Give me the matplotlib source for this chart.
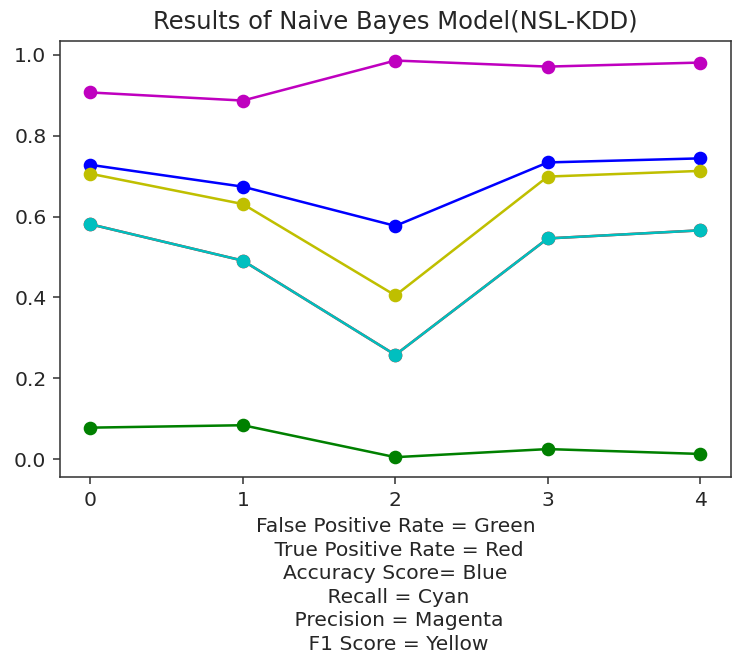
import matplotlib
matplotlib.use('Agg')
import matplotlib.pyplot as plt

runs = [0, 1, 2, 3, 4]
fpr = [0.078, 0.084, 0.005, 0.025, 0.013]
tpr = [0.581, 0.491, 0.258, 0.546, 0.566]
accuracy = [0.728, 0.674, 0.577, 0.734, 0.744]
recall = [0.581, 0.491, 0.258, 0.546, 0.566]
precision = [0.907, 0.887, 0.986, 0.971, 0.981]
f1 = [0.706, 0.631, 0.405, 0.699, 0.713]

plt.rcParams['font.size'] = 10.4
plt.rcParams['text.color'] = '#262626'
plt.rcParams['xtick.color'] = '#333333'
plt.rcParams['ytick.color'] = '#333333'
plt.rcParams['xtick.labelcolor'] = '#262626'
plt.rcParams['ytick.labelcolor'] = '#262626'
plt.rcParams['axes.edgecolor'] = '#333333'
plt.rcParams['axes.labelcolor'] = '#262626'

fig = plt.figure(figsize=(735/140, 657/140), dpi=140)
fig.subplots_adjust(left=60/735, right=730.7/735, top=1-40.7/657, bottom=1-477/657)

plt.plot(runs, fpr, 'go-', lw=1.3)
plt.plot(runs, tpr, 'ro-', lw=1.3)
plt.plot(runs, accuracy, 'bo-', lw=1.3)
plt.plot(runs, recall, 'co-', lw=1.3)
plt.plot(runs, precision, 'mo-', lw=1.3)
plt.plot(runs, f1, 'yo-', lw=1.3)
plt.xticks(runs)
plt.title("Results of Naive Bayes Model(NSL-KDD)", fontsize=12.5)
plt.xlabel("False Positive Rate = Green\n True Positive Rate = Red\nAccuracy Score= Blue\n Recall = Cyan\n Precision = Magenta\n F1 Score = Yellow",
           linespacing=1.3)
plt.savefig('out.png', dpi=140)
